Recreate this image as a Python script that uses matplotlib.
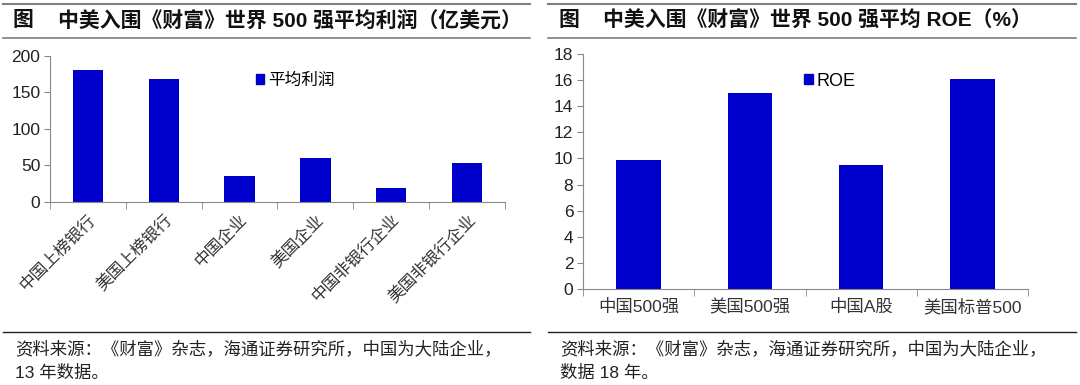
import matplotlib

matplotlib.use("Agg")
import matplotlib.pyplot as plt  # noqa: E402
from matplotlib.lines import Line2D  # noqa: E402
from matplotlib.patches import Patch  # noqa: E402
from matplotlib.ticker import FixedLocator  # noqa: E402

plt.rcParams["font.family"] = ["Liberation Sans", "Noto Sans CJK SC", "DejaVu Sans"]

# left chart: average profit (100m USD)
profit_cats = ["中国上榜银行", "美国上榜银行", "中国企业", "美国企业", "中国非银行企业", "美国非银行企业"]
profit_vals = [181, 168, 36, 60, 19, 53]
profit_yticks = [0, 50, 100, 150, 200]

# right chart: average ROE (%)
roe_cats = ["中国500强", "美国500强", "中国A股", "美国标普500"]
roe_vals = [9.9, 15.05, 9.5, 16.1]
roe_yticks = [0, 2, 4, 6, 8, 10, 12, 14, 16, 18]

title_left = "中美入围《财富》世界 500 强平均利润（亿美元）"
title_right = "中美入围《财富》世界 500 强平均 ROE（%）"
source_left = ["资料来源：《财富》杂志，海通证券研究所，中国为大陆企业，", "13 年数据。"]
source_right = ["资料来源：《财富》杂志，海通证券研究所，中国为大陆企业，", "数据 18 年。"]

BAR = "#0000CC"
AXC = "#888888"
W, H = 1080, 385


def px(x, y):
    return x / W, 1 - y / H


def style_axes(ax, n, yticks, ymax):
    ax.set_xlim(-0.5, n - 0.5)
    ax.set_ylim(0, ymax)
    ax.set_yticks(yticks)
    for s in ("top", "right"):
        ax.spines[s].set_visible(False)
    for s in ("left", "bottom"):
        ax.spines[s].set_color(AXC)
    ax.xaxis.set_minor_locator(FixedLocator([i - 0.5 for i in range(n + 1)]))
    ax.tick_params(axis="x", which="major", length=0, pad=7)
    ax.tick_params(axis="x", which="minor", length=5, color=AXC, direction="out")
    ax.tick_params(axis="y", length=4, color=AXC, labelsize=12.5, pad=3, labelcolor="#222222")


def header(fig, x0, x1, title, src):
    for y, c, lw in ((4, "#7f7f7f", 1.5), (38, "#7f7f7f", 1.2), (332, "#222222", 1.0)):
        xa, ya = px(x0, y)
        xb, _ = px(x1, y)
        fig.add_artist(Line2D([xa, xb], [ya, ya], color=c, lw=lw))
    fx, fy = px(x0 + 10, 21)
    fig.text(fx, fy, "图", fontsize=15, fontweight="bold", va="center", color="#111111")
    fx, fy = px(x0 + 55, 21)
    fig.text(fx, fy, title, fontsize=15, fontweight="bold", va="center", color="#111111")
    for i, line in enumerate(src):
        fx, fy = px(x0 + 12, 349 + i * 24)
        fig.text(fx, fy, line, fontsize=12.5, va="center", color="#222222")


fig = plt.figure(figsize=(10.8, 3.85), dpi=100)

# left panel
ax1 = fig.add_axes([50 / W, 1 - 202 / H, 455 / W, 146 / H])
ax1.bar(range(len(profit_cats)), profit_vals, width=0.4, color=BAR)
style_axes(ax1, len(profit_cats), profit_yticks, 200)
ax1.set_xticks(range(len(profit_cats)))
ax1.set_xticklabels(profit_cats, rotation=45, ha="right", rotation_mode="anchor",
                    fontsize=12, color="#333333")
ax1.legend(handles=[Patch(color=BAR, label="平均利润")], loc="upper left",
           bbox_to_anchor=(0.42, 0.99), frameon=False, fontsize=12,
           handlelength=0.5, handleheight=0.5, handletextpad=0.2)

# right panel
ax2 = fig.add_axes([583 / W, 1 - 289 / H, 445 / W, 235 / H])
ax2.bar(range(len(roe_cats)), roe_vals, width=0.4, color=BAR)
style_axes(ax2, len(roe_cats), roe_yticks, 18)
ax2.set_xticks(range(len(roe_cats)))
ax2.set_xticklabels(roe_cats, fontsize=12.5, color="#333333")
ax2.legend(handles=[Patch(color=BAR, label="ROE")], loc="upper left",
           bbox_to_anchor=(0.46, 0.99), frameon=False, fontsize=13,
           handlelength=0.5, handleheight=0.5, handletextpad=0.2)

header(fig, 3, 530, title_left, source_left)
header(fig, 548, 1076, title_right, source_right)

fig.savefig("out.png", dpi=100)
plt.close(fig)
